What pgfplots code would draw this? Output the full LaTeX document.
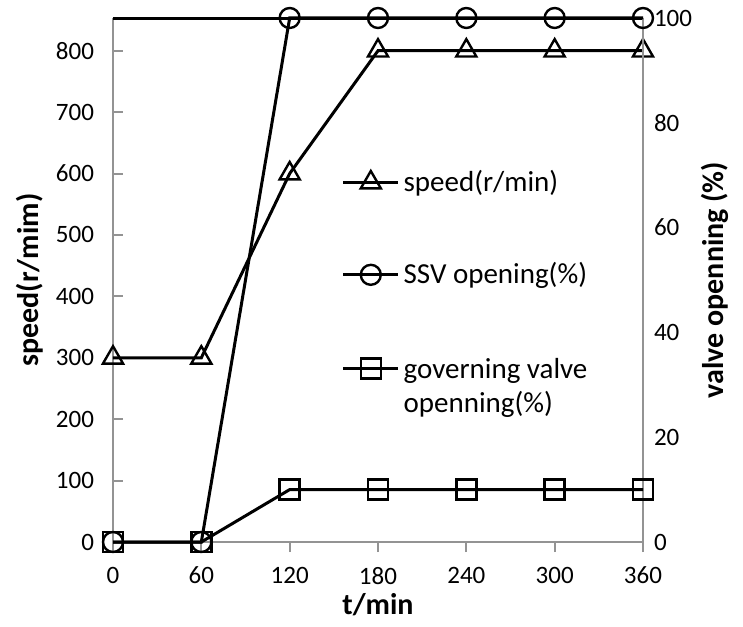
\documentclass[border=0pt]{standalone}
\usepackage{pgfplots}
\pgfplotsset{compat=1.18}
\usepackage{fontspec}
\setmainfont{Carlito}

\pgfplotsset{
  chartbase/.style={
    scale only axis, width=265pt, height=262pt,
    xmin=0, xmax=360, clip=false,
    font=\fontsize{14.5}{17}\selectfont,
    tick label style={font=\fontsize{12.5}{15}\selectfont, /pgf/number format/assume math mode=true},
    label style={font=\fontsize{15}{18}\selectfont\bfseries},
    axis line style={gray!85, line width=1pt},
    major tick length=5pt,
  },
  lineopts/.style={black, line width=1.5pt, mark options={fill=white, line width=1.2pt, solid}},
  legend image code/.code={\draw[mark repeat=2,mark phase=2,#1] plot coordinates {(0cm,0cm) (0.48cm,0cm) (0.96cm,0cm)};},
}

\begin{document}
\begin{tikzpicture}
  % left axis: speed
  \begin{axis}[chartbase,
      axis x line*=bottom, axis y line*=left,
      xtick={0,60,...,360}, xtick align=outside,
      ymin=0, ymax=853.3, ytick={0,100,...,800}, ytick align=inside,
      tick style={gray!85, line width=1pt},
      xticklabel style={yshift=-4pt},
      yticklabel style={xshift=-6pt},
      xlabel={t/min}, ylabel={speed(r/mim)},
      xlabel style={at={(rel axis cs:0.5,-0.1202)}, anchor=center},
      ylabel style={at={(rel axis cs:-0.1566,0.5)}, anchor=center, rotate=0},
    ]
    \addplot[lineopts, mark=triangle, mark size=5.8pt] coordinates {
      (0,300) (60,300) (120,600) (180,800) (240,800) (300,800) (360,800)
    };
    \draw[black, line width=1.5pt] (rel axis cs:0,1) -- (rel axis cs:1,1);
  \end{axis}
  % right axis: valve openings
  \begin{axis}[chartbase,
      axis x line=none, axis y line*=right,
      ymin=0, ymax=100, ytick={0,20,...,100},
      ytick style={draw=none},
      yticklabel style={xshift=2pt},
      ylabel={valve openning (\%)},
      ylabel style={at={(rel axis cs:1.1358,0.5)}, anchor=center},
      legend style={draw=none, fill=none, at={(0.42,0.725)}, anchor=north west,
        row sep=30pt, font=\fontsize{14.5}{17}\selectfont},
      legend cell align=left,
    ]
    \addlegendimage{lineopts, mark=triangle, mark size=5.8pt}
    \addplot[lineopts, mark=o, mark size=5pt] coordinates {
      (0,0) (60,0) (120,100) (180,100) (240,100) (300,100) (360,100)
    };
    \addplot[lineopts, mark=square, mark size=5pt] coordinates {
      (0,0) (60,0) (120,10) (180,10) (240,10) (300,10) (360,10)
    };
    \legend{speed(r/min), SSV opening(\%),
      {\begin{tabular}[t]{@{}l@{}} governing valve\\openning(\%)\end{tabular}}}
    \coordinate (sw) at (rel axis cs:0,0);
    \coordinate (ne) at (rel axis cs:1,1);
  \end{axis}
  \pgfresetboundingbox
  \path ([shift={(-56.5pt,-42pt)}]sw) rectangle ([shift={(50pt,9pt)}]ne);
\end{tikzpicture}
\end{document}
